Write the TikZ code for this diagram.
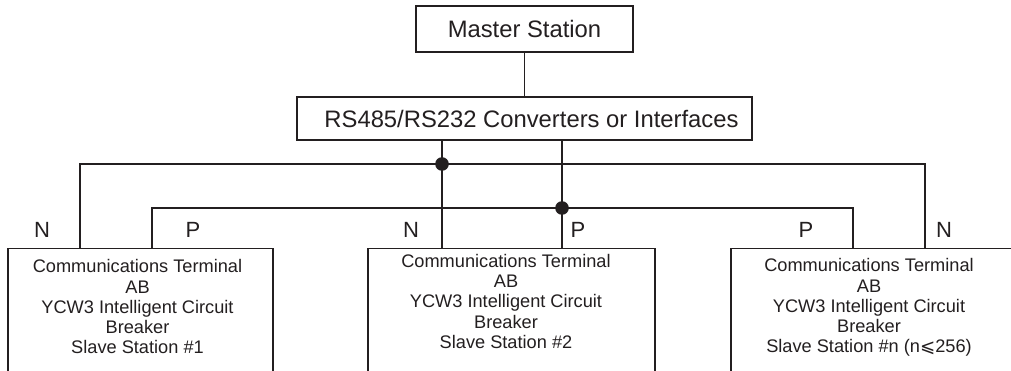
\documentclass[tikz,border=0pt]{standalone}
\usepackage{fontspec}
\setmainfont{Liberation Sans}
\newfontfamily\symfont{DejaVu Sans}
\newcommand{\fsz}[2]{\fontsize{#1}{#2}\selectfont}
\definecolor{ink}{HTML}{231F20}
\begin{document}
\begin{tikzpicture}[x=1pt,y=-1pt,
  box/.style={draw=ink, line width=1.3pt, inner sep=0pt, rectangle},
  txt/.style={inner sep=0pt, align=center, text=ink, font=\fsz{18.2}{20.3}},
  lbl/.style={inner sep=0pt, anchor=base, text=ink, font=\fsz{22}{24}},
  wire/.style={draw=ink, line width=1.3pt}]
\useasboundingbox (0,0) rectangle (1011,371);
\clip (0,0) rectangle (1011,371);
\fill[white] (0,0) rectangle (1011,371);

\node[box, minimum width=217pt, minimum height=46pt, text=ink, font=\fsz{23.8}{26}] (ms) at (524.5,29) {Master Station};
\node[box, minimum width=455pt, minimum height=43pt, text=ink, font=\fsz{23.8}{26}] (cv) at (524.5,118.5) {\hspace*{14pt}RS485/RS232 Converters or Interfaces};

\node[box, anchor=north, minimum width=265pt, minimum height=200pt] (s1) at (140.5,248) {};
\node[box, anchor=north, minimum width=287pt, minimum height=200pt] (s2) at (511.5,248) {};
\node[box, anchor=north, minimum width=288pt, minimum height=200pt] (s3) at (875,248) {};

\node[txt, anchor=north] (t1) at (137.5,259.4) {Communications Terminal\\AB\\YCW3 Intelligent Circuit\\Breaker\\Slave Station \#1};
\node[txt, anchor=north] (t2) at (506,254) {Communications Terminal\\AB\\YCW3 Intelligent Circuit\\Breaker\\Slave Station \#2};
\node[txt, anchor=north] (t3) at (869,258.4) {Communications Terminal\\AB\\YCW3 Intelligent Circuit\\Breaker\\Slave Station \#n (n{\symfont ⩽}256)};

\coordinate (j1) at (442,164);
\coordinate (j2) at (562,208);
\coordinate (u1) at (80,164);
\coordinate (u3) at (925,164);
\coordinate (l1) at (152,208);
\coordinate (l3) at (853,208);

\draw[wire] (ms) -- (cv);
\draw[wire] (cv.south -| j1) -- (j1) -- (s2.north -| j1);
\draw[wire] (cv.south -| j2) -- (j2) -- (s2.north -| j2);
\draw[wire] (s1.north -| u1) -- (u1) -- (u3) -- (s3.north -| u3);
\draw[wire] (s1.north -| l1) -- (l1) -- (l3) -- (s3.north -| l3);
\fill[ink] (j1) circle (6.8);
\fill[ink] (j2) circle (6.8);

\node[lbl] (n1) at (42,237) {N};
\node[lbl] (p1) at (193,237) {P};
\node[lbl] (n2) at (411,237) {N};
\node[lbl] (p2) at (578,237) {P};
\node[lbl] (p3) at (806,237) {P};
\node[lbl] (n3) at (944,237) {N};
\end{tikzpicture}
\end{document}
